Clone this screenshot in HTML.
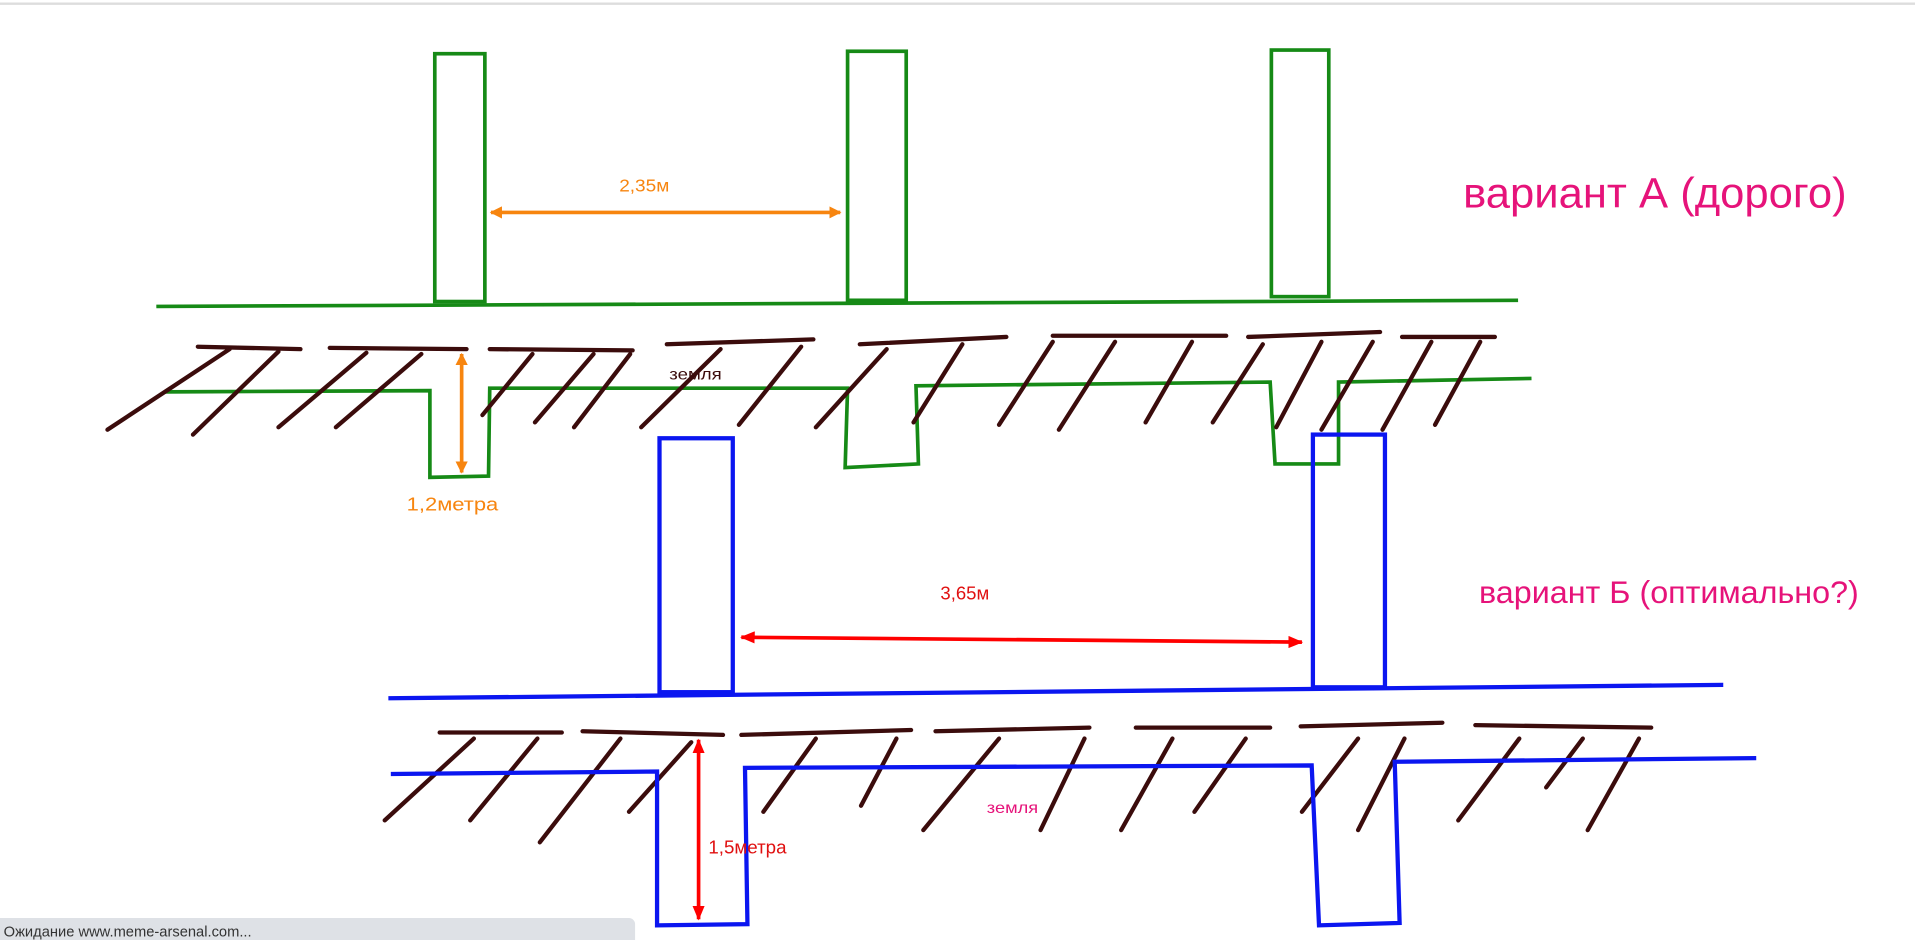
<!DOCTYPE html>
<html><head><meta charset="utf-8"><style>
html,body{margin:0;padding:0;background:#fff;width:1915px;height:940px;overflow:hidden}
svg{display:block}
text{font-family:"Liberation Sans","DejaVu Sans",sans-serif}
</style></head><body>
<svg width="1915" height="940" viewBox="0 0 1568 770" preserveAspectRatio="none" xmlns="http://www.w3.org/2000/svg">
<defs>
<marker id="ao" markerWidth="10" markerHeight="10" refX="9" refY="5" orient="auto-start-reverse" markerUnits="userSpaceOnUse"><path d="M0,0 L10,5 L0,10 z" fill="#f7850f"/></marker>
<marker id="ar" markerWidth="12" markerHeight="10" refX="11" refY="5" orient="auto-start-reverse" markerUnits="userSpaceOnUse"><path d="M0,0 L12,5 L0,10 z" fill="#f00"/></marker>
</defs>
<line x1="0" y1="3" x2="1568" y2="3" stroke="#ddd" stroke-width="2"/>
<g fill="none" stroke="#168a16" stroke-width="3">
<rect x="356" y="44" width="41" height="203"/>
<rect x="694" y="42" width="48" height="204"/>
<rect x="1041" y="41" width="47" height="202"/>
<path d="M128,251 L1243,246"/>
<path d="M135,321 L352,320 L352,391 L400,390 L401,318 L694,318 L692,383 L752,380 L750,316 L1040,313 L1044,380 L1096,380 L1096,313 L1254,310"/>
</g>
<line x1="402" y1="174" x2="688" y2="174" stroke="#f7850f" stroke-width="3" marker-start="url(#ao)" marker-end="url(#ao)"/>
<text x="507" y="157" font-size="14" fill="#f7850f" textLength="41" lengthAdjust="spacingAndGlyphs">2,35м</text>
<text x="1198" y="170" font-size="35" fill="#e6137a" textLength="314" lengthAdjust="spacingAndGlyphs">вариант А (дорого)</text>
<g stroke="#3b0c0c" stroke-width="3.5" stroke-linecap="round">
<path d="M162,284 L246,286 M270,285 L382,286 M401,286 L518,287 M546,282 L666,278 M704,282 L824,276 M862,275 L1004,275 M1022,276 L1130,272 M1148,276 L1224,276"/>
<path d="M188,286 L88,352 M228,288 L158,356 M300,289 L228,350 M345,290 L275,350 M436,290 L395,340 M486,290 L438,346 M516,290 L470,350 M590,286 L525,350 M656,284 L605,348 M726,286 L668,350 M788,282 L748,346 M862,280 L818,348 M913,280 L867,352 M976,280 L938,346 M1034,282 L993,346 M1082,280 L1045,350 M1124,280 L1082,352 M1172,280 L1132,352 M1212,280 L1175,348"/>
<path d="M360,600 L460,600 M477,599 L592,602 M607,602 L746,598 M766,599 L892,596 M930,596 L1040,596 M1065,595 L1181,592 M1208,594 L1352,596"/>
<path d="M388,605 L315,672 M440,605 L385,672 M508,605 L442,690 M566,608 L515,665 M668,605 L625,665 M734,605 L705,660 M818,605 L756,680 M888,605 L852,680 M960,605 L918,680 M1020,605 L978,665 M1112,605 L1066,665 M1150,605 L1112,680 M1244,605 L1194,672 M1296,605 L1266,645 M1342,605 L1300,680"/>
</g>
<g fill="none" stroke="#0b16f0" stroke-width="3.5">
<rect x="540" y="359" width="60" height="208"/>
<rect x="1075" y="356" width="59" height="207"/>
<path d="M318,572 L1411,561"/>
<path d="M320,634 L538,632 L538,758 L612,757 L610,629 L1074,627 L1080,758 L1146,756 L1142,624 L1438,621"/>
</g>
<line x1="378" y1="290" x2="378" y2="387" stroke="#f7850f" stroke-width="3" marker-start="url(#ao)" marker-end="url(#ao)"/>
<text x="333" y="418" font-size="15" fill="#f7850f" textLength="75" lengthAdjust="spacingAndGlyphs">1,2метра</text>
<text x="548" y="311" font-size="13" fill="#3b0c0c" textLength="43" lengthAdjust="spacingAndGlyphs">земля</text>
<line x1="607" y1="522" x2="1066" y2="526" stroke="#f00" stroke-width="3" marker-start="url(#ar)" marker-end="url(#ar)"/>
<text x="770" y="491" font-size="15" fill="#e01010" textLength="40" lengthAdjust="spacingAndGlyphs">3,65м</text>
<text x="1211" y="494" font-size="26" fill="#e6137a" textLength="311" lengthAdjust="spacingAndGlyphs">вариант Б (оптимально?)</text>
<line x1="572" y1="606" x2="572" y2="753" stroke="#f00" stroke-width="3" marker-start="url(#ar)" marker-end="url(#ar)"/>
<text x="580" y="699" font-size="15" fill="#e01010" textLength="64" lengthAdjust="spacingAndGlyphs">1,5метра</text>
<text x="808" y="666" font-size="13" fill="#e6137a" textLength="42" lengthAdjust="spacingAndGlyphs">земля</text>
<rect x="-6" y="752" width="526" height="24" rx="5" fill="#dee1e6"/>
<text x="3" y="767" font-size="12" fill="#333" textLength="203" lengthAdjust="spacingAndGlyphs">Ожидание www.meme-arsenal.com...</text>
</svg>
</body></html>
